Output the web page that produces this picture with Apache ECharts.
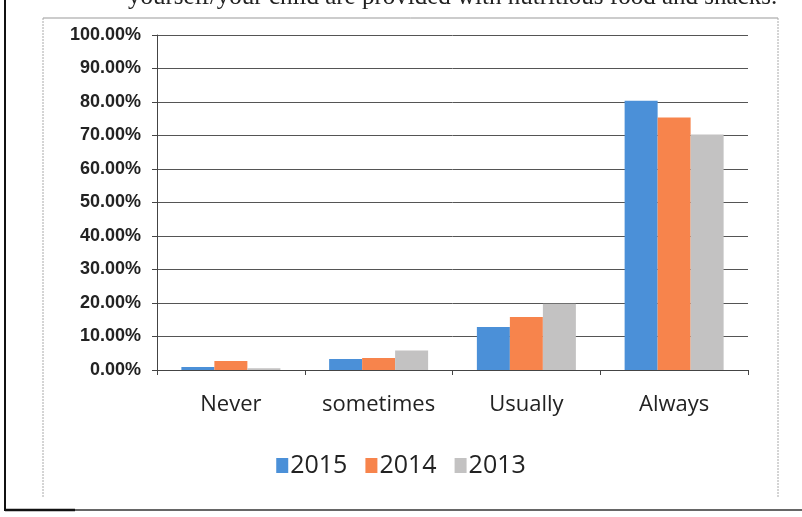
<!DOCTYPE html>
<html><head><meta charset="utf-8">
<script src="https://cdn.jsdelivr.net/npm/echarts@6/dist/echarts.min.js"></script>
<style>html,body{margin:0;padding:0;background:#fff}#c{width:802px;height:517px}</style>
</head><body><div id="c"></div>
<script>
var categories = ['Never', 'sometimes', 'Usually', 'Always'];
var seriesNames = ['2015', '2014', '2013'];
var v2015 = [0.9, 3.3, 12.8, 80.4];
var v2014 = [2.7, 3.6, 15.8, 75.4];
var v2013 = [0.5, 5.8, 19.8, 70.3];
var yTicks = [0, 10, 20, 30, 40, 50, 60, 70, 80, 90, 100];

var colors = ['#4b90d8', '#f7844c', '#c3c2c2'];
var chart = echarts.init(document.getElementById('c'));
chart.setOption({
  animation: false,
  color: colors,
  grid: {left: 157, right: 54, top: 35, bottom: 147, containLabel: false},
  legend: {
    data: seriesNames, top: 448, left: 'center',
    itemWidth: 12, itemHeight: 15, itemGap: 18,
    icon: 'rect',
    textStyle: {fontFamily: 'Open Sans', fontSize: 25, color: '#222', padding: [0,0,0,-3]}
  },
  xAxis: {
    type: 'category', data: categories,
    axisLine: {lineStyle: {color: '#444', width: 1}},
    axisTick: {show: true, length: 5, lineStyle: {color: '#444'}},
    axisLabel: {interval: 0, fontFamily: 'Open Sans', fontSize: 22, color: '#222', margin: 24}
  },
  yAxis: {
    type: 'value', min: yTicks[0], max: yTicks[yTicks.length-1], interval: 10,
    axisLine: {show: true, lineStyle: {color: '#444'}},
    axisTick: {show: true, length: 5, lineStyle: {color: '#444'}},
    splitLine: {lineStyle: {color: '#555', width: 1}},
    axisLabel: {fontFamily: 'Liberation Sans', fontWeight: 'bold', fontSize: 18, color: '#222', margin: 16,
      formatter: function (v) { return v.toFixed(2) + '%'; }}
  },
  series: [
    {name: seriesNames[0], type: 'bar', data: v2015, barWidth: 33, barGap: '0%'},
    {name: seriesNames[1], type: 'bar', data: v2014, barWidth: 33, barGap: '0%'},
    {name: seriesNames[2], type: 'bar', data: v2013, barWidth: 33, barGap: '0%'}
  ],
  graphic: [
    {type: 'line', shape: {x1: 43, y1: 18, x2: 778, y2: 18}, style: {stroke: '#999', lineWidth: 1}},
    {type: 'line', shape: {x1: 43, y1: 18, x2: 43, y2: 497}, style: {stroke: '#aaa', lineWidth: 1, lineDash: [2, 1]}},
    {type: 'line', shape: {x1: 778, y1: 18, x2: 778, y2: 497}, style: {stroke: '#aaa', lineWidth: 1, lineDash: [2, 1]}},
    {type: 'line', shape: {x1: 5, y1: 0, x2: 5, y2: 511}, style: {stroke: '#111', lineWidth: 2}},
    {type: 'line', shape: {x1: 5, y1: 510, x2: 802, y2: 510}, style: {stroke: '#333', lineWidth: 1.5}},
    {type: 'line', shape: {x1: 5, y1: 510, x2: 75, y2: 510}, style: {stroke: '#111', lineWidth: 2.5}},
    {type: 'text', left: 128, top: -15, style: {text: 'yourself/your child are provided with nutritious food and snacks.', font: '25px "Liberation Serif"', fill: '#222'}}
  ]
});
</script></body></html>
